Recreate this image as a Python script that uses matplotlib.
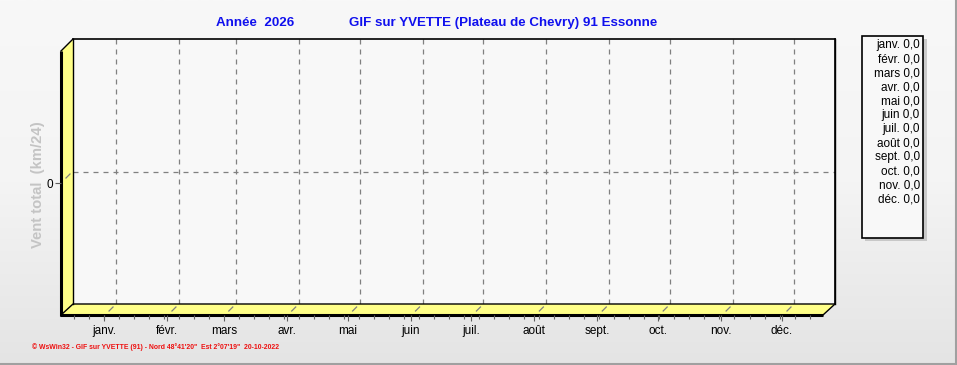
import numpy as np
import matplotlib
matplotlib.use("Agg")
import matplotlib.pyplot as plt
from matplotlib.patches import Polygon, Rectangle
from matplotlib.colors import LinearSegmentedColormap

# ---- data ----
months = ["janv.", "févr.", "mars", "avr.", "mai", "juin",
          "juil.", "août", "sept.", "oct.", "nov.", "déc."]
days_in_month = [31, 28, 31, 30, 31, 30, 31, 31, 30, 31, 30, 31]
values = [0.0] * 12
title_year = "Année  2026"
title_station = "GIF sur YVETTE (Plateau de Chevry) 91 Essonne"
ylabel = "Vent total  (km/24)"
footer = "\u00a9 WsWin32 - GIF sur YVETTE (91) - Nord 48\u00b041'20\"  Est 2\u00b007'19\"  20-10-2022"

plt.rcParams['font.family'] = ['Liberation Sans', 'DejaVu Sans']

W, H = 957, 365
fig = plt.figure(figsize=(W / 100, H / 100), dpi=100)

def fr(x0, y0, x1, y1):
    return [x0 / W, 1 - y1 / H, (x1 - x0) / W, (y1 - y0) / H]

# background gradient
bg = fig.add_axes([0, 0, 1, 1], zorder=0)
grad = np.linspace(0, 1, 256)[:, None]
cm = LinearSegmentedColormap.from_list("g", ["#f8f8f8", "#f4f4f4", "#e4e4e4"])
bg.imshow(grad, aspect="auto", cmap=cm, extent=[0, W, H, 0])
bg.set_xlim(0, W); bg.set_ylim(H, 0); bg.axis("off")

# x positions (day of year), middle of month (15th)
starts = np.concatenate([[0], np.cumsum(days_in_month)[:-1]])
xpos = starts + 14
xlim = (-7.2, 368.2)
ylim = (-1, 1)

# back wall
BX0, BY0, BX1, BY1 = 73, 39, 835, 304
ax = fig.add_axes(fr(BX0, BY0, BX1, BY1), zorder=1)
ax.set_facecolor("#f8f8f8")
ax.set_xlim(*xlim); ax.set_ylim(*ylim)
for s in ["left", "bottom"]:
    ax.spines[s].set_visible(False)
for s in ["top", "right"]:
    ax.spines[s].set_linewidth(1.2)
ax.set_xticks(xpos)
ax.set_yticks([0])
ax.tick_params(length=0, labelbottom=False, labelleft=False)
ax.grid(True, color="#808080", linestyle=(0, (4, 4)), linewidth=0.9)
ax.bar(xpos, values, width=20, color="#3050ff")

# front axes (labels/ticks)
FX0, FY0, FX1, FY1 = 61, 51, 823, 315
fa = fig.add_axes(fr(FX0, FY0, FX1, FY1), zorder=3)
fa.patch.set_alpha(0)
fa.set_xlim(*xlim); fa.set_ylim(*ylim)
for s in fa.spines.values():
    s.set_visible(False)
fa.set_xticks(xpos)
fa.set_xticklabels(months, fontsize=8.5)
fa.set_xticks(np.arange(-1, 366, 7.4), minor=True)
fa.set_yticks([0])
fa.set_yticklabels(["0"], fontsize=8.5)
fa.tick_params(axis="x", which="major", length=4, width=0.8, color="#606060", pad=3)
fa.tick_params(axis="x", which="minor", length=3, width=0.8, color="#606060")
fa.tick_params(axis="y", which="major", length=4, width=0.8, color="#606060", pad=2)

fig.text(38 / W, 1 - 185 / H, ylabel, fontsize=10.7, fontweight="bold",
         color="#c4c4c4", rotation=90, ha="center", va="center")

# decorations in pixel coords
d = fig.add_axes([0, 0, 1, 1], zorder=2)
d.set_xlim(0, W); d.set_ylim(H, 0); d.axis("off")
yellow = "#ffff88"
d.add_patch(Polygon([(61, 51), (73, 39), (73, 304), (61, 315)], closed=True,
                    facecolor=yellow, edgecolor="none"))
d.add_patch(Polygon([(61, 315), (73, 304), (835, 304), (823, 315)], closed=True,
                    facecolor=yellow, edgecolor="none"))
d.plot([61, 73, 835], [304 + 11, 304, 304], color="black", lw=1.0)
d.plot([73, 73], [39, 304], color="black", lw=1.0)
d.plot([61, 73], [51, 39], color="black", lw=1.0)
d.plot([61, 61], [51, 316], color="black", lw=2.2, solid_capstyle="butt")
d.plot([60, 823], [315, 315], color="black", lw=2.2, solid_capstyle="butt")
d.plot([823, 835], [315, 304], color="black", lw=1.0)
d.plot([835, 835], [39, 304], color="black", lw=1.0)

# diagonal dashed grid continuation on floor and wall
def px_x(v):
    return BX0 + (v - xlim[0]) / (xlim[1] - xlim[0]) * (BX1 - BX0)
for v in xpos:
    xb = px_x(v)
    d.plot([xb - 3, xb - 7], [307, 311], color="#808080", lw=0.9)
d.plot([70, 66], [174, 178], color="#808080", lw=0.9)

# titles
fig.text(255 / W, 1 - 23 / H, title_year, color="#1010ee", fontsize=9.6,
         fontweight="bold", ha="center", va="center")
fig.text(503 / W, 1 - 23 / H, title_station, color="#1010ee", fontsize=9.6,
         fontweight="bold", ha="center", va="center")

# legend box
lg = fig.add_axes([0, 0, 1, 1], zorder=4)
lg.set_xlim(0, W); lg.set_ylim(H, 0); lg.axis("off")
lg.add_patch(Rectangle((865, 39), 62, 202, facecolor="#b8b8b8", edgecolor="none", alpha=0.7))
lg.add_patch(Rectangle((862, 36), 61, 202, facecolor="#f8f8f8", edgecolor="black", lw=1.2))
for i, (m, v) in enumerate(zip(months, values)):
    lg.text(920, 45 + i * 14, m + " " + f"{v:.1f}".replace(".", ","),
            fontsize=8.5, ha="right", va="center", color="black")

# footer
fig.text(32 / W, 1 - 347 / H, footer, color="#ee1010", fontsize=4.95,
         fontweight="bold", ha="left", va="center")

# image border
lg.plot([956, 956], [0, 365], color="#a0a0a0", lw=1.5)
lg.plot([0, 957], [364, 364], color="#a0a0a0", lw=1.5)

fig.savefig("out.png", dpi=100)
